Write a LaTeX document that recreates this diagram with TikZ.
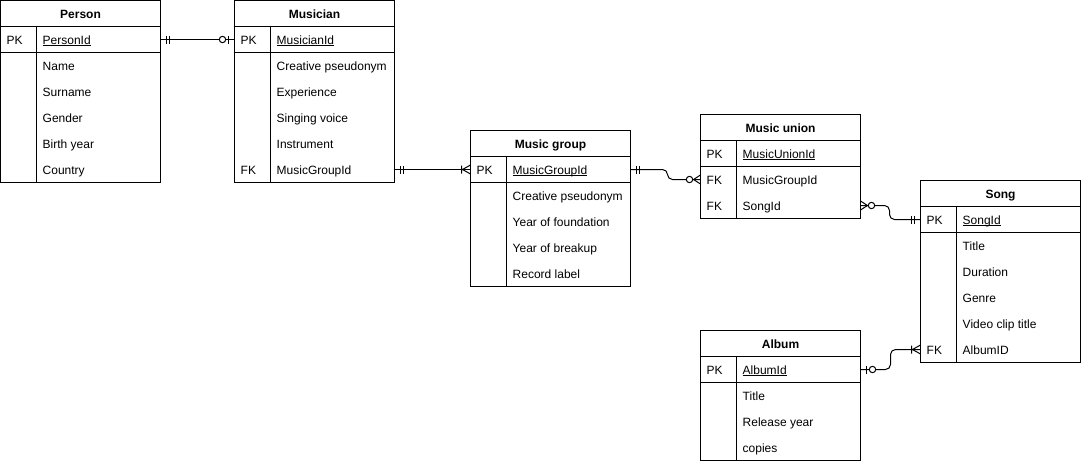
\documentclass[tikz,border=0pt]{standalone}
\usepackage{fontspec}
\setmainfont{Liberation Sans}
\usetikzlibrary{calc}
\newcommand\pkul[1]{\setbox0\hbox{#1}\rlap{\rule[-1.4pt]{\wd0}{0.7pt}}\box0}
\tikzset{
  tbl/.style={draw, line width=1pt, anchor=north west, minimum width=160pt, inner sep=0pt, outer sep=0pt},
  hdr/.style={anchor=base, inner sep=0pt, font=\fontsize{12}{14}\selectfont\bfseries},
  rowbox/.style={minimum width=160pt, minimum height=26pt, inner sep=0pt, outer sep=0pt},
  celltxt/.style={anchor=base west, inner sep=0pt, font=\fontsize{12}{14}\selectfont},
  tline/.style={line width=1pt},
  conn/.style={line width=1pt},
  mk/.style={line width=1pt},
}
\newcommand\ertab[5]{%
  \node[tbl, minimum height={26+26*#5}] (#1) at ({#2+0.5},{#3+0.5}) {};
  \node[hdr] (#1-h) at ([yshift=-18pt]#1.north) {#4};
  \draw[tline] ([yshift=-26pt]#1.north west) -- ([yshift=-26pt]#1.north east);
  \draw[tline] ([yshift=-52pt]#1.north west) -- ([yshift=-52pt]#1.north east);
  \draw[tline] ([xshift=36pt,yshift=-26pt]#1.north west) -- ([xshift=36pt]#1.south west);
}
\newcommand\errow[4]{%
  \node[rowbox] (#1-r#2) at ([yshift={-(26*#2+13)}]#1.north) {};
  \node[celltxt] (#1-k#2) at ([xshift=6pt,yshift=-5pt]#1-r#2.west) {#3};
  \node[celltxt] (#1-t#2) at ([xshift=42pt,yshift=-5pt]#1-r#2.west) {#4};
}
\newcommand\mkMandOne[2]{\draw[mk] ([xshift=#2*6pt,yshift=-4pt]#1) -- ([xshift=#2*6pt,yshift=4pt]#1) ([xshift=#2*9pt,yshift=-4pt]#1) -- ([xshift=#2*9pt,yshift=4pt]#1);}
\newcommand\mkZeroOne[2]{\draw[mk] ([xshift=#2*6pt,yshift=-4pt]#1) -- ([xshift=#2*6pt,yshift=4pt]#1); \draw[mk,fill=white] ([xshift=#2*12pt]#1) circle[radius=3.2pt];}
\newcommand\mkOneMany[2]{\draw[mk] ([yshift=-4.5pt]#1) -- ([xshift=#2*8pt]#1) -- ([yshift=4.5pt]#1) ([xshift=#2*9pt,yshift=-4pt]#1) -- ([xshift=#2*9pt,yshift=4pt]#1);}
\newcommand\mkZeroMany[2]{\draw[mk] ([yshift=-4.5pt]#1) -- ([xshift=#2*7pt]#1) -- ([yshift=4.5pt]#1); \draw[mk,fill=white] ([xshift=#2*11pt]#1) circle[radius=3.2pt];}
\begin{document}
\begin{tikzpicture}[x=1pt,y=-1pt]
\useasboundingbox (0,0) rectangle (1081,464);
% Person
\ertab{person}{0}{0}{Person}{6}
\errow{person}{1}{PK}{\pkul{PersonId}}
\errow{person}{2}{}{Name}
\errow{person}{3}{}{Surname}
\errow{person}{4}{}{Gender}
\errow{person}{5}{}{Birth year}
\errow{person}{6}{}{Country}
% Musician
\ertab{musician}{234}{0}{Musician}{6}
\errow{musician}{1}{PK}{\pkul{MusicianId}}
\errow{musician}{2}{}{Creative pseudonym}
\errow{musician}{3}{}{Experience}
\errow{musician}{4}{}{Singing voice}
\errow{musician}{5}{}{Instrument}
\errow{musician}{6}{FK}{MusicGroupId}
% Music group
\ertab{group}{470}{130}{Music group}{5}
\errow{group}{1}{PK}{\pkul{MusicGroupId}}
\errow{group}{2}{}{Creative pseudonym}
\errow{group}{3}{}{Year of foundation}
\errow{group}{4}{}{Year of breakup}
\errow{group}{5}{}{Record label}
% Music union
\ertab{union}{700}{114}{Music union}{3}
\errow{union}{1}{PK}{\pkul{MusicUnionId}}
\errow{union}{2}{FK}{MusicGroupId}
\errow{union}{3}{FK}{SongId}
% Song
\ertab{song}{920}{180}{Song}{6}
\errow{song}{1}{PK}{\pkul{SongId}}
\errow{song}{2}{}{Title}
\errow{song}{3}{}{Duration}
\errow{song}{4}{}{Genre}
\errow{song}{5}{}{Video clip title}
\errow{song}{6}{FK}{AlbumID}
% Album
\ertab{album}{700}{330}{Album}{4}
\errow{album}{1}{PK}{\pkul{AlbumId}}
\errow{album}{2}{}{Title}
\errow{album}{3}{}{Release year}
\errow{album}{4}{}{copies}
% connectors
\draw[conn] (person-r1.east) -- (musician-r1.west);
\mkMandOne{person-r1.east}{1}
\mkZeroOne{musician-r1.west}{-1}
\draw[conn] (musician-r6.east) -- (group-r1.west);
\mkMandOne{musician-r6.east}{1}
\mkOneMany{group-r1.west}{-1}
\draw[conn, rounded corners=5pt] (group-r1.east) -- ++(37,0) |- (union-r2.west);
\mkMandOne{group-r1.east}{1}
\mkZeroMany{union-r2.west}{-1}
\draw[conn, rounded corners=5pt] (union-r3.east) -- ++(29,0) |- (song-r1.west);
\mkZeroMany{union-r3.east}{1}
\mkMandOne{song-r1.west}{-1}
\draw[conn, rounded corners=5pt] (album-r1.east) -- ++(30,0) |- (song-r6.west);
\mkZeroOne{album-r1.east}{1}
\mkOneMany{song-r6.west}{-1}
\end{tikzpicture}
\end{document}
